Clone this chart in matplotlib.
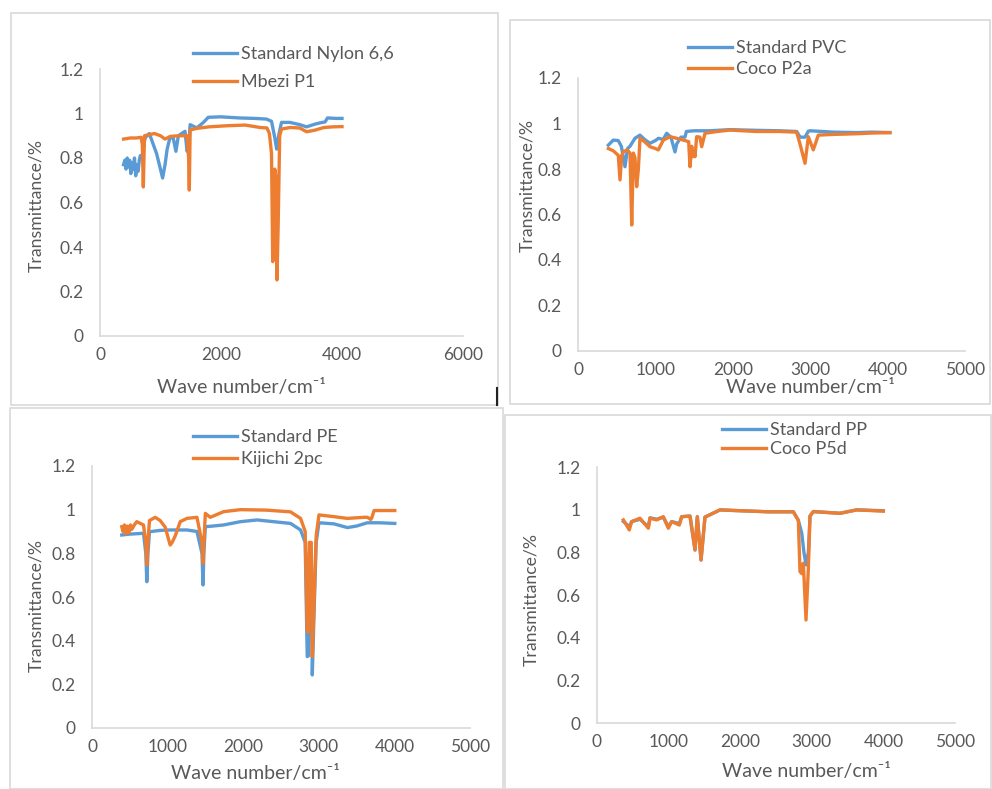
import matplotlib
matplotlib.use('Agg')
import matplotlib.pyplot as plt
from matplotlib.patches import Rectangle
from matplotlib.lines import Line2D

plt.rcParams['font.family'] = ['Lato', 'DejaVu Sans']

BLUE = '#5B9BD5'
ORANGE = '#ED7D31'
GREY = '#595959'
LIGHT = '#D9D9D9'

# ---- data (wavenumber cm-1, transmittance) ----
# panel 1 : nylon
nylon_wn = [390, 410, 430, 450, 470, 490, 510, 530, 550, 570, 590, 610, 630, 650, 665,
            690, 745, 815, 855, 935, 990, 1035, 1075, 1110, 1155, 1210, 1255, 1295, 1350,
            1405, 1440, 1470, 1490, 1600, 1710, 1790, 2000, 2300, 2550, 2750, 2835, 2890,
            2920, 2960, 3000, 3140, 3300, 3415, 3550, 3640, 3720, 3760, 3900, 4000]
nylon_t = [0.77, 0.79, 0.75, 0.80, 0.76, 0.79, 0.73, 0.78, 0.75, 0.80, 0.72, 0.77, 0.74, 0.79, 0.81,
           0.80, 0.89, 0.91, 0.88, 0.82, 0.76, 0.71, 0.77, 0.84, 0.89, 0.89, 0.83, 0.90, 0.91,
           0.92, 0.83, 0.86, 0.95, 0.935, 0.96, 0.983, 0.985, 0.98, 0.978, 0.975, 0.965, 0.89,
           0.84, 0.91, 0.96, 0.96, 0.95, 0.94, 0.952, 0.958, 0.962, 0.98, 0.978, 0.978]
mbezi_wn = [390, 500, 600, 680, 700, 716, 735, 900, 1000, 1075, 1160, 1300, 1440, 1465, 1476, 1490,
            1600, 1800, 2100, 2400, 2650, 2760, 2800, 2835, 2855, 2872, 2888, 2905, 2925, 2945,
            2970, 3000, 3140, 3300, 3415, 3550, 3700, 3850, 4000]
mbezi_t = [0.885, 0.89, 0.89, 0.893, 0.86, 0.67, 0.90, 0.91, 0.90, 0.885, 0.897, 0.90, 0.90, 0.80, 0.656, 0.926,
           0.933, 0.94, 0.945, 0.948, 0.937, 0.935, 0.91, 0.82, 0.334, 0.36, 0.75, 0.72, 0.252, 0.50,
           0.90, 0.93, 0.937, 0.935, 0.918, 0.925, 0.937, 0.94, 0.941]

# panel 2 : PVC
pvc_wn = [392, 456, 520, 560, 607, 640, 672, 736, 800, 860, 930, 1000, 1040, 1100, 1146, 1200,
          1253, 1275, 1330, 1382, 1400, 1500, 1700, 1964, 2300, 2600, 2825, 2870, 2933, 2976,
          3000, 3300, 3600, 3800, 4030]
pvc_t = [0.905, 0.927, 0.925, 0.90, 0.81, 0.89, 0.90, 0.935, 0.949, 0.93, 0.913, 0.925, 0.935, 0.93, 0.957, 0.94,
         0.875, 0.91, 0.94, 0.94, 0.965, 0.968, 0.968, 0.973, 0.97, 0.968, 0.965, 0.94, 0.94, 0.966,
         0.968, 0.962, 0.96, 0.962, 0.96]
cocop2a_wn = [392, 456, 520, 543, 565, 586, 637, 672, 694, 715, 736, 758, 780, 801, 860, 930, 1000,
              1038, 1102, 1189, 1275, 1382, 1430, 1447, 1470, 1481, 1500, 1512, 1533, 1575, 1598,
              1641, 1800, 1964, 2300, 2600, 2825, 2868, 2933, 2976, 3040, 3105, 3300, 3600, 3800, 4030]
cocop2a_t = [0.89, 0.88, 0.86, 0.752, 0.86, 0.876, 0.884, 0.87, 0.554, 0.87, 0.85, 0.722, 0.80, 0.935, 0.92, 0.898, 0.89,
             0.884, 0.927, 0.942, 0.935, 0.925, 0.92, 0.81, 0.90, 0.854, 0.87, 0.854, 0.942, 0.94, 0.898,
             0.957, 0.965, 0.971, 0.965, 0.965, 0.962, 0.91, 0.825, 0.942, 0.884, 0.949, 0.952, 0.955, 0.958, 0.96]

# panel 3 : PE
pe_wn = [394, 500, 600, 681, 712, 725, 740, 760, 900, 1034, 1150, 1256, 1388, 1455, 1468, 1480,
         1499, 1600, 1742, 1963, 2184, 2400, 2626, 2759, 2820, 2847, 2862, 2874, 2900, 2914, 2935,
         2965, 3002, 3200, 3378, 3500, 3643, 3800, 4005]
pe_t = [0.884, 0.888, 0.89, 0.892, 0.80, 0.67, 0.80, 0.899, 0.905, 0.907, 0.907, 0.907, 0.90, 0.80, 0.655, 0.80,
        0.922, 0.925, 0.93, 0.945, 0.953, 0.945, 0.937, 0.907, 0.85, 0.327, 0.33, 0.80, 0.80, 0.243, 0.50,
        0.85, 0.94, 0.935, 0.918, 0.925, 0.94, 0.94, 0.937]
kijichi_wn = [394, 410, 430, 450, 470, 490, 510, 526, 560, 592, 681, 712, 725, 740, 760, 836, 902,
              968, 1000, 1034, 1060, 1101, 1167, 1256, 1388, 1455, 1468, 1480, 1499, 1565, 1742, 1963,
              2300, 2626, 2759, 2820, 2847, 2862, 2874, 2900, 2914, 2935, 2965, 3002, 3200, 3378, 3600,
              3643, 3687, 3700, 3731, 3850, 4005]
kijichi_t = [0.922, 0.90, 0.93, 0.89, 0.925, 0.895, 0.93, 0.91, 0.93, 0.945, 0.93, 0.85, 0.747, 0.85, 0.95, 0.965, 0.95,
             0.92, 0.88, 0.838, 0.85, 0.88, 0.945, 0.96, 0.965, 0.85, 0.754, 0.85, 0.983, 0.965, 0.991, 1.0,
             0.998, 0.99, 0.96, 0.90, 0.441, 0.44, 0.85, 0.85, 0.327, 0.55, 0.88, 0.976, 0.968, 0.96, 0.965,
             0.965, 0.955, 0.962, 0.996, 0.996, 0.996]

# panel 4 : PP
pp_wn = [368, 451, 484, 600, 717, 740, 833, 926, 996, 1043, 1150, 1183, 1299, 1369, 1401, 1453,
         1508, 1718, 2000, 2400, 2742, 2812, 2860, 2890, 2920, 2952, 2975, 3021, 3394, 3627, 3999]
pp_t = [0.945, 0.92, 0.944, 0.955, 0.92, 0.962, 0.955, 0.965, 0.92, 0.944, 0.935, 0.967, 0.97, 0.811, 0.967, 0.764,
        0.965, 0.999, 0.995, 0.99, 0.99, 0.95, 0.889, 0.80, 0.741, 0.80, 0.97, 0.991, 0.983, 0.999, 0.995]
cocop5d_wn = [368, 451, 484, 600, 717, 740, 833, 926, 996, 1043, 1150, 1183, 1299, 1369, 1401, 1453,
              1508, 1718, 2000, 2400, 2742, 2812, 2835, 2860, 2882, 2919, 2952, 2975, 3021, 3394, 3627, 3999]
cocop5d_t = [0.952, 0.905, 0.944, 0.96, 0.913, 0.96, 0.952, 0.967, 0.913, 0.944, 0.928, 0.967, 0.97, 0.811, 0.967, 0.764,
             0.965, 0.999, 0.995, 0.99, 0.99, 0.95, 0.71, 0.70, 0.749, 0.483, 0.725, 0.97, 0.991, 0.983, 0.999, 0.993]

W, H = 992, 789
fig = plt.figure(figsize=(W / 100, H / 100), dpi=100)

# panel frames (pixel boxes x0, y0, x1, y1)
for x0, y0, x1, y1 in [(11, 13, 498, 405), (510, 20, 990, 404), (10, 408, 503, 789), (505, 415, 991, 789)]:
    fig.add_artist(Rectangle((x0 / W, 1 - y1 / H), (x1 - x0) / W, (y1 - y0) / H,
                             transform=fig.transFigure, fill=False, ec=LIGHT, lw=1.2))
fig.add_artist(Line2D([497 / W, 497 / W], [1 - 388 / H, 1 - 405 / H], transform=fig.transFigure,
                      color='#222222', lw=1.5))

panels = [
    dict(box=(100, 69, 463, 336), xmax=6000, xstep=2000,
         series=[(nylon_wn, nylon_t, 'Standard Nylon 6,6'), (mbezi_wn, mbezi_t, 'Mbezi P1')],
         leg=(193, 52, 0.68), xl=(241, 388), yl=(36, 205)),
    dict(box=(578, 78, 965, 351), xmax=5000, xstep=1000,
         series=[(pvc_wn, pvc_t, 'Standard PVC'), (cocop2a_wn, cocop2a_t, 'Coco P2a')],
         leg=(688, 46, 0.3), xl=(810, 387), yl=(527, 186)),
    dict(box=(92, 466, 470, 728), xmax=5000, xstep=1000,
         series=[(pe_wn, pe_t, 'Standard PE'), (kijichi_wn, kijichi_t, 'Kijichi 2pc')],
         leg=(193, 435, 0.33), xl=(255, 773), yl=(36, 606)),
    dict(box=(597, 467, 955, 723), xmax=5000, xstep=1000,
         series=[(pp_wn, pp_t, 'Standard PP'), (cocop5d_wn, cocop5d_t, 'Coco P5d')],
         leg=(722, 428, 0.18), xl=(806, 772), yl=(531, 600)),
]

for p in panels:
    x0, y0, x1, y1 = p['box']
    ax = fig.add_axes([x0 / W, 1 - y1 / H, (x1 - x0) / W, (y1 - y0) / H])
    handles = []
    for (wn, t, lab), c in zip(p['series'], [BLUE, ORANGE]):
        ln, = ax.plot(wn, t, color=c, lw=2.4, label=lab)
        handles.append(ln)
    ax.set_xlim(0, p['xmax'])
    ax.set_ylim(0, 1.2)
    ax.set_xticks(range(0, p['xmax'] + 1, p['xstep']))
    ax.set_yticks([0, 0.2, 0.4, 0.6, 0.8, 1.0, 1.2])
    ax.set_yticklabels(['0', '0.2', '0.4', '0.6', '0.8', '1', '1.2'])
    for s in ['top', 'right']:
        ax.spines[s].set_visible(False)
    for s in ['left', 'bottom']:
        ax.spines[s].set_color(LIGHT)
        ax.spines[s].set_linewidth(1.2)
    ax.tick_params(length=0, labelsize=12.5, labelcolor=GREY)
    ax.tick_params(axis='x', pad=8)
    ax.tick_params(axis='y', pad=12)
    ax.patch.set_alpha(0)

    lx, ly, sp = p['leg']
    ax.legend(handles=handles, loc='upper left', bbox_to_anchor=(lx / W, 1 - (ly - 6) / H),
              bbox_transform=fig.transFigure, frameon=False, fontsize=13,
              handlelength=2.45, handletextpad=0.2, labelspacing=sp, borderpad=0,
              borderaxespad=0, labelcolor=GREY)

    fig.text(p['xl'][0] / W, 1 - p['xl'][1] / H, 'Wave number/cm⁻¹', ha='center', va='center',
             fontsize=14, color=GREY)
    fig.text(p['yl'][0] / W, 1 - p['yl'][1] / H, 'Transmittance/%', ha='center', va='center',
             rotation=90, fontsize=12.7, color=GREY)

fig.savefig('out.png', dpi=100)
